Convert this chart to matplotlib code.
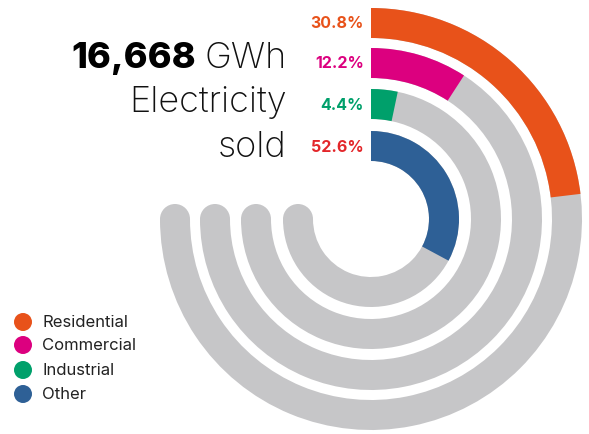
import matplotlib
matplotlib.use("Agg")
import matplotlib.pyplot as plt
from matplotlib.patches import Wedge, Circle

# data
categories = ["Residential", "Commercial", "Industrial", "Other"]
pct_labels = ["30.8%", "12.2%", "4.4%", "52.6%"]
# share of the 270 degree track that each coloured arc fills (as drawn)
arc_share = [30.8, 12.2, 4.4, 43.8]
colors = ["#E8521A", "#DC007F", "#00A06B", "#2E6096"]
label_colors = ["#E8521A", "#DC007F", "#00A06B", "#E3262A"]
total_text = "16,668"
unit_text = "GWh"

track = "#C6C6C8"
cx, cy = 371, 215
outer_r = [211, 171, 130, 88]
width = 30
span = 270

plt.rcParams["font.family"] = ["Inter", "DejaVu Sans"]

fig = plt.figure(figsize=(5.89, 4.35), dpi=100)
ax = fig.add_axes([0, 0, 1, 1])
ax.set_xlim(0, 589)
ax.set_ylim(0, 435)
ax.set_aspect("equal")
ax.axis("off")

for r, share, c, lab, lc in zip(outer_r, arc_share, colors, pct_labels, label_colors):
    # grey track: 12 o'clock clockwise to 9 o'clock, round cap at the end
    ax.add_patch(Wedge((cx, cy), r, 180, 90 + 360, width=width, facecolor=track, edgecolor="none"))
    ax.add_patch(Circle((cx - (r - width / 2), cy), width / 2, facecolor=track, edgecolor="none"))
    a = share / 100 * span
    ax.add_patch(Wedge((cx, cy), r, 90 - a, 90, width=width, facecolor=c, edgecolor="none"))
    ax.text(cx - 7, cy + r - width / 2, lab, ha="right", va="center",
            fontsize=11.5, fontweight="bold", color=lc)

# title block
t_unit = ax.text(287, 435 - 68, unit_text, ha="right", va="baseline", fontsize=26,
                 fontweight="light", color="#111111")
fig.canvas.draw()
bb = t_unit.get_window_extent(fig.canvas.get_renderer())
x_left = ax.transData.inverted().transform((bb.x0, bb.y0))[0]
ax.text(x_left - 9, 435 - 68, total_text, ha="right", va="baseline", fontsize=26,
        fontweight="heavy", color="#000000")
ax.text(287, 435 - 112, "Electricity", ha="right", va="baseline", fontsize=26,
        fontweight="light", color="#111111")
ax.text(287, 435 - 157, "sold", ha="right", va="baseline", fontsize=26,
        fontweight="light", color="#111111")

# legend
leg_y = [323, 346, 371, 395]
for y, c, name in zip(leg_y, colors, categories):
    ax.add_patch(Circle((23, 435 - y), 9, facecolor=c, edgecolor="none"))
    ax.text(42, 435 - y, name, ha="left", va="center", fontsize=12, color="#222222")

fig.savefig("out.png", dpi=100)
